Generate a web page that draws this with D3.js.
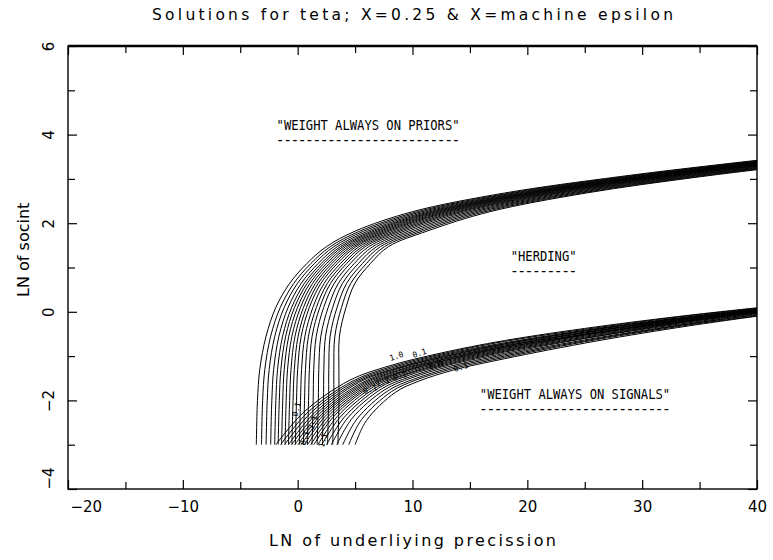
<!DOCTYPE html>
<html>
<head>
<meta charset="utf-8">
<script src="https://cdn.jsdelivr.net/npm/d3@7"></script>
<style>
  body { margin: 0; background: #fff; }
  text { font-family: "DejaVu Sans", sans-serif; fill: #000; }
</style>
</head>
<body>
<div id="chart"></div>
<script>
// axis ticks
const xMajor = [-20, -10, 0, 10, 20, 30, 40];
const xMinor = [-15, -5, 5, 15, 25, 35];
const yMajor = [-4, -2, 0, 2, 4, 6];
const yMinor = [-3, -1, 1, 3, 5];

// upper family of contours: LN of socint levels, and x read for each curve at those levels
const upperLevels = [-3, -2, -1.3, -0.55, 0.1, 0.64, 1.09, 1.47, 1.82, 2.26, 2.68, 3.05, 3.42, 3.7];
const upperX = [
  [-3.6, -3.5, -3.3, -2.75, -1.9, -0.7, 0.8, 2.5, 5, 10, 18, 28, 40, 50],
  [-3.15, -3.05, -2.86, -2.35, -1.51, -0.34, 1.15, 2.84, 5.4, 10.43, 18.45, 28.45, 40.45, 50.45],
  [-2.75, -2.65, -2.48, -1.99, -1.17, -0.02, 1.46, 3.15, 5.75, 10.81, 18.85, 28.85, 40.85, 50.85],
  [-2.35, -2.25, -2.09, -1.63, -0.83, 0.3, 1.78, 3.45, 6.1, 11.19, 19.25, 29.25, 41.25, 51.25],
  [-2.0, -1.9, -1.75, -1.31, -0.52, 0.58, 2.05, 3.72, 6.41, 11.52, 19.6, 29.6, 41.6, 51.6],
  [-1.7, -1.6, -1.46, -1.04, -0.27, 0.82, 2.28, 3.94, 6.67, 11.81, 19.9, 29.9, 41.9, 51.9],
  [-1.4, -1.3, -1.17, -0.77, -0.01, 1.06, 2.52, 4.17, 6.94, 12.09, 20.2, 30.2, 42.2, 52.2],
  [-1.1, -1.0, -0.88, -0.5, 0.25, 1.3, 2.75, 4.4, 7.2, 12.38, 20.5, 30.5, 42.5, 52.5],
  [-0.8, -0.7, -0.58, -0.23, 0.51, 1.54, 2.98, 4.63, 7.46, 12.66, 20.8, 30.8, 42.8, 52.8],
  [-0.5, -0.4, -0.29, 0.04, 0.77, 1.78, 3.22, 4.86, 7.73, 12.95, 21.1, 31.1, 43.1, 53.1],
  [-0.2, -0.1, 0.0, 0.31, 1.02, 2.02, 3.45, 5.08, 7.99, 13.23, 21.4, 31.4, 43.4, 53.4],
  [0.15, 0.25, 0.34, 0.63, 1.33, 2.3, 3.73, 5.35, 8.3, 13.56, 21.75, 31.75, 43.75, 53.75],
  [0.5, 0.6, 0.68, 0.94, 1.63, 2.58, 4.0, 5.62, 8.61, 13.9, 22.1, 32.1, 44.1, 54.1],
  [0.85, 0.95, 1.02, 1.26, 1.93, 2.86, 4.27, 5.88, 8.92, 14.23, 22.45, 32.45, 44.45, 54.45],
  [1.25, 1.35, 1.4, 1.62, 2.27, 3.18, 4.58, 6.19, 9.27, 14.61, 22.85, 32.85, 44.85, 54.85],
  [1.7, 1.8, 1.84, 2.02, 2.66, 3.54, 4.93, 6.53, 9.66, 15.04, 23.3, 33.3, 45.3, 55.3],
  [2.15, 2.25, 2.28, 2.43, 3.05, 3.9, 5.29, 6.87, 10.06, 15.46, 23.75, 33.75, 45.75, 55.75],
  [2.6, 2.7, 2.71, 2.83, 3.43, 4.26, 5.64, 7.21, 10.46, 15.89, 24.2, 34.2, 46.2, 56.2],
  [3.05, 3.15, 3.15, 3.24, 3.82, 4.62, 5.99, 7.55, 10.85, 16.32, 24.65, 34.65, 46.65, 56.65],
  [3.5, 3.6, 3.59, 3.64, 4.21, 4.98, 6.34, 7.9, 11.25, 16.75, 25.1, 35.1, 47.1, 57.1]
];

// lower family of contours, [LN precission, LN socint] points
const lowerCurves = [
  [[-1.9, -3], [0.6, -2.25], [4.5, -1.55], [8, -1.22], [12.5, -0.93], [18, -0.65], [26, -0.34], [34, -0.08], [40, 0.09]],
  [[-1.49, -3], [0.92, -2.26], [4.74, -1.57], [8.15, -1.24], [12.56, -0.95], [18, -0.67], [26, -0.36], [34, -0.09], [40, 0.08]],
  [[-1.14, -3], [1.19, -2.27], [4.94, -1.58], [8.28, -1.26], [12.61, -0.97], [18, -0.70], [26, -0.38], [34, -0.11], [40, 0.07]],
  [[-0.80, -3], [1.46, -2.28], [5.14, -1.59], [8.4, -1.28], [12.66, -0.99], [18, -0.72], [26, -0.39], [34, -0.12], [40, 0.06]],
  [[-0.52, -3], [1.68, -2.29], [5.3, -1.60], [8.5, -1.29], [12.7, -1.01], [18, -0.73], [26, -0.40], [34, -0.13], [40, 0.05]],
  [[-0.24, -3], [1.90, -2.30], [5.46, -1.62], [8.6, -1.30], [12.74, -1.02], [18, -0.75], [26, -0.42], [34, -0.14], [40, 0.04]],
  [[0.03, -3], [2.11, -2.31], [5.62, -1.63], [8.7, -1.32], [12.78, -1.04], [18, -0.77], [26, -0.43], [34, -0.15], [40, 0.04]],
  [[0.31, -3], [2.33, -2.31], [5.78, -1.64], [8.8, -1.33], [12.82, -1.06], [18, -0.78], [26, -0.44], [34, -0.16], [40, 0.03]],
  [[0.58, -3], [2.54, -2.32], [5.94, -1.65], [8.9, -1.35], [12.86, -1.07], [18, -0.80], [26, -0.46], [34, -0.17], [40, 0.02]],
  [[0.86, -3], [2.76, -2.33], [6.1, -1.66], [9.0, -1.36], [12.9, -1.09], [18, -0.81], [26, -0.47], [34, -0.18], [40, 0.01]],
  [[1.14, -3], [2.98, -2.34], [6.26, -1.67], [9.1, -1.37], [12.94, -1.10], [18, -0.83], [26, -0.48], [34, -0.19], [40, 0.01]],
  [[1.41, -3], [3.19, -2.35], [6.42, -1.68], [9.2, -1.39], [12.98, -1.12], [18, -0.85], [26, -0.49], [34, -0.20], [40, 0.00]],
  [[1.76, -3], [3.46, -2.36], [6.62, -1.69], [9.33, -1.41], [13.03, -1.14], [18, -0.87], [26, -0.51], [34, -0.21], [40, -0.01]],
  [[2.10, -3], [3.73, -2.37], [6.82, -1.71], [9.45, -1.42], [13.08, -1.16], [18, -0.89], [26, -0.53], [34, -0.22], [40, -0.02]],
  [[2.52, -3], [4.06, -2.38], [7.06, -1.72], [9.6, -1.44], [13.14, -1.18], [18, -0.91], [26, -0.55], [34, -0.23], [40, -0.03]],
  [[2.93, -3], [4.38, -2.39], [7.3, -1.74], [9.75, -1.47], [13.2, -1.20], [18, -0.94], [26, -0.56], [34, -0.25], [40, -0.04]],
  [[3.41, -3], [4.76, -2.40], [7.58, -1.76], [9.93, -1.49], [13.27, -1.23], [18, -0.97], [26, -0.59], [34, -0.27], [40, -0.06]],
  [[3.93, -3], [5.16, -2.42], [7.88, -1.78], [10.11, -1.52], [13.35, -1.26], [18, -1.00], [26, -0.61], [34, -0.28], [40, -0.07]],
  [[4.45, -3], [5.57, -2.43], [8.18, -1.80], [10.3, -1.54], [13.42, -1.29], [18, -1.03], [26, -0.63], [34, -0.30], [40, -0.09]],
  [[5.0, -3], [6.0, -2.45], [8.5, -1.82], [10.5, -1.57], [13.5, -1.32], [18, -1.06], [26, -0.66], [34, -0.32], [40, -0.10]]
];

// contour level labels sitting on the lower family
const bandLabels = [
  { t: '1.0', x: 8.6, y: -1.0 }, { t: '0.1', x: 10.6, y: -0.93 }, { t: '0.1', x: 14.2, y: -1.25 },
  { t: '0.0', x: 12.0, y: -1.2 }, { t: '0.1', x: 8.9, y: -1.45 }, { t: '1.1', x: 7.4, y: -1.58 },
  { t: '0.1', x: 6.3, y: -1.75 }
];
const footLabels = [
  { t: '0.1', x: -0.1, y: -2.2 }, { t: '2.1', x: 1.3, y: -2.5 }, { t: '1.1', x: 2.2, y: -2.9 },
  { t: '0.1', x: 0.6, y: -2.85 }
];

// region notes
const notes = [
  { t: '"WEIGHT ALWAYS ON PRIORS"', x: 6.13, y: 4.22 },
  { t: '"HERDING"', x: 21.42, y: 1.26 },
  { t: '"WEIGHT ALWAYS ON SIGNALS"', x: 24.15, y: -1.86 }
];

const W = 773, H = 560;
const margin = { top: 46, right: 16, bottom: 71, left: 68 };
const iw = W - margin.left - margin.right;
const ih = H - margin.top - margin.bottom;

const svg = d3.select('#chart').append('svg')
  .attr('width', W).attr('height', H);
svg.append('rect').attr('width', W).attr('height', H).attr('fill', '#fff');

const x = d3.scaleLinear().domain([-20, 40]).range([margin.left, margin.left + iw]);
const y = d3.scaleLinear().domain([-4, 6]).range([margin.top + ih, margin.top]);

svg.append('clipPath').attr('id', 'plot')
  .append('rect').attr('x', margin.left).attr('y', margin.top).attr('width', iw).attr('height', ih);

const line = d3.line()
  .x(d => x(d[0]))
  .y(d => y(d[1]))
  .curve(d3.curveCatmullRom.alpha(0.5));

const curves = svg.append('g').attr('clip-path', 'url(#plot)')
  .attr('fill', 'none').attr('stroke', '#000').attr('stroke-width', 1);

curves.selectAll('path.up')
  .data(upperX.map(xs => xs.map((v, i) => [v, upperLevels[i]])))
  .join('path').attr('class', 'up').attr('d', line);

curves.selectAll('path.low')
  .data(lowerCurves)
  .join('path').attr('class', 'low').attr('d', line);

// little contour labels
svg.append('g').selectAll('text')
  .data(bandLabels).join('text')
  .attr('transform', d => `translate(${x(d.x)},${y(d.y)}) rotate(-18)`)
  .attr('text-anchor', 'middle').attr('dy', '0.35em')
  .style('font-size', '8px').style('font-family', '"DejaVu Sans Mono", monospace')
  .text(d => d.t);
svg.append('g').selectAll('text')
  .data(footLabels).join('text')
  .attr('transform', d => `translate(${x(d.x)},${y(d.y)}) rotate(-75)`)
  .attr('text-anchor', 'middle').attr('dy', '0.35em')
  .style('font-size', '8px').style('font-family', '"DejaVu Sans Mono", monospace')
  .text(d => d.t);

// frame
svg.append('rect')
  .attr('x', margin.left).attr('y', margin.top).attr('width', iw).attr('height', ih)
  .attr('fill', 'none').attr('stroke', '#000').attr('stroke-width', 1.4);
svg.append('line')
  .attr('x1', margin.left).attr('x2', margin.left + iw)
  .attr('y1', margin.top).attr('y2', margin.top)
  .attr('stroke', '#000').attr('stroke-width', 2.6);

function styleAxis(g) {
  g.select('.domain').remove();
  g.selectAll('.tick line').attr('stroke', '#000').attr('stroke-width', 1.2);
  g.selectAll('text').style('font-size', '15px').style('font-family', '"DejaVu Sans", sans-serif');
}

// bottom
const bottom = svg.append('g').attr('transform', `translate(0,${margin.top + ih})`)
  .call(d3.axisBottom(x).tickValues(xMajor).tickSize(-9).tickPadding(12))
  .call(styleAxis);
bottom.selectAll('.tick text').filter(d => d === -20)
  .attr('text-anchor', 'start').attr('x', 2);
svg.append('g').attr('transform', `translate(0,${margin.top + ih})`)
  .call(d3.axisBottom(x).tickValues(xMinor).tickSize(-7).tickFormat(''))
  .call(styleAxis);

// top
svg.append('g').attr('transform', `translate(0,${margin.top})`)
  .call(d3.axisTop(x).tickValues(xMajor).tickSize(-9).tickFormat(''))
  .call(styleAxis);
svg.append('g').attr('transform', `translate(0,${margin.top})`)
  .call(d3.axisTop(x).tickValues(xMinor).tickSize(-7).tickFormat(''))
  .call(styleAxis);

// left, labels turned to read upward
const left = svg.append('g').attr('transform', `translate(${margin.left},0)`)
  .call(d3.axisLeft(y).tickValues(yMajor).tickSize(-9))
  .call(styleAxis);
left.selectAll('.tick text')
  .attr('x', null).attr('dy', null)
  .attr('text-anchor', d => d === -4 ? 'start' : 'middle')
  .attr('transform', 'translate(-14,0) rotate(-90)');
svg.append('g').attr('transform', `translate(${margin.left},0)`)
  .call(d3.axisLeft(y).tickValues(yMinor).tickSize(-7).tickFormat(''))
  .call(styleAxis);

// right
svg.append('g').attr('transform', `translate(${margin.left + iw},0)`)
  .call(d3.axisRight(y).tickValues(yMajor).tickSize(-9).tickFormat(''))
  .call(styleAxis);
svg.append('g').attr('transform', `translate(${margin.left + iw},0)`)
  .call(d3.axisRight(y).tickValues(yMinor).tickSize(-7).tickFormat(''))
  .call(styleAxis);

// notes with dashed underline made of hyphens
const noteG = svg.append('g').selectAll('g').data(notes).join('g')
  .attr('transform', d => `translate(${x(d.x)},${y(d.y)})`);
noteG.append('text')
  .attr('text-anchor', 'middle').attr('dy', '0.36em')
  .attr('textLength', d => d.t.length * 7.32).attr('lengthAdjust', 'spacingAndGlyphs')
  .style('font-size', '13.5px').style('font-family', '"DejaVu Sans Mono", monospace')
  .text(d => d.t);
noteG.append('text')
  .attr('text-anchor', 'middle').attr('y', 15.5).attr('dy', '0.3em')
  .attr('textLength', d => d.t.length * 7.32).attr('lengthAdjust', 'spacingAndGlyphs')
  .style('font-size', '9px').style('font-weight', 'bold')
  .style('font-family', '"DejaVu Sans Mono", monospace')
  .text(d => '-'.repeat(d.t.length));

// titles
svg.append('text')
  .attr('x', x(10)).attr('y', 20)
  .attr('text-anchor', 'middle')
  .attr('textLength', 521).attr('lengthAdjust', 'spacing')
  .style('font-size', '15.5px')
  .text('Solutions for teta;  X=0.25 & X=machine epsilon');

svg.append('text')
  .attr('x', x(10)).attr('y', 546)
  .attr('text-anchor', 'middle')
  .attr('textLength', 287).attr('lengthAdjust', 'spacing')
  .style('font-size', '16px')
  .text('LN of underliying precission');

svg.append('text')
  .attr('transform', `translate(29,${y(1.4)}) rotate(-90)`)
  .attr('text-anchor', 'middle')
  .style('font-size', '16px')
  .text('LN of socint');
</script>
</body>
</html>
